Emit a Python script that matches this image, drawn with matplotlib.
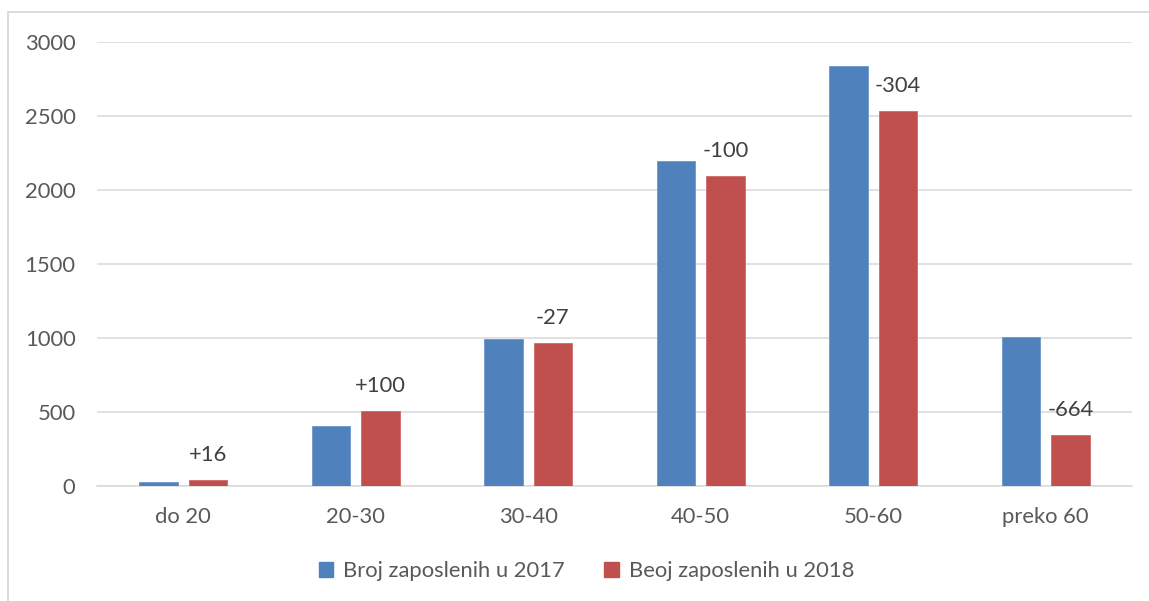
import matplotlib
matplotlib.use("Agg")
import matplotlib.pyplot as plt
from matplotlib.patches import Patch, Rectangle
import numpy as np

categories = ["do 20", "20-30", "30-40", "40-50", "50-60", "preko 60"]
values_2017 = [24, 406, 989, 2192, 2834, 1006]
values_2018 = [40, 506, 962, 2092, 2530, 342]
change_labels = ["+16", "+100", "-27", "-100", "-304", "-664"]
series_names = ["Broj zaposlenih u 2017", "Beoj zaposlenih u 2018"]
y_ticks = [0, 500, 1000, 1500, 2000, 2500, 3000]

plt.rcParams['font.family'] = ['Lato', 'DejaVu Sans']

W, H = 1149, 601
fig = plt.figure(figsize=(W / 100, H / 100), dpi=100)
left, right, bottom_px, top_px = 97, 1132, 485.7, 41.7
ax = fig.add_axes([left / W, 1 - bottom_px / H, (right - left) / W, (bottom_px - top_px) / H])

blue = "#4F81BD"
red = "#C0504D"
fs = 15.8
x = np.arange(len(categories))
bw = 0.224
off = 0.143
ax.bar(x - off, values_2017, bw, color=blue, edgecolor="#6d97cc", linewidth=0.6, zorder=3)
ax.bar(x + off, values_2018, bw, color=red, edgecolor="#d06a67", linewidth=0.6, zorder=3)

for xi, v, lab in zip(x, values_2018, change_labels):
    ax.annotate(lab, (xi + off, v), xytext=(0, 25), textcoords="offset pixels",
                ha="center", va="center", fontsize=fs, color="#404040", zorder=4)

ax.set_xlim(-0.5, len(categories) - 0.5)
ax.set_ylim(0, 3000)
ax.set_yticks(y_ticks)
ax.set_yticklabels([str(t) for t in y_ticks])
ax.set_xticks(x)
ax.set_xticklabels(categories)
ax.tick_params(axis="both", length=0, labelsize=fs, labelcolor="#595959")
ax.tick_params(axis="y", pad=15.5)
ax.tick_params(axis="x", pad=15)
ax.grid(axis="y", color="#D9D9D9", linewidth=1.1, zorder=0)
ax.set_axisbelow(True)
for s in ["top", "right", "left"]:
    ax.spines[s].set_visible(False)
ax.spines["bottom"].set_color("#D9D9D9")
ax.spines["bottom"].set_linewidth(1.1)

handles = [Patch(facecolor=blue, edgecolor=blue), Patch(facecolor=red, edgecolor=red)]
fig.legend(handles, series_names, loc="center", bbox_to_anchor=((322 + 851) / 2 / W, 1 - 571 / H),
           ncol=2, frameon=False, fontsize=fs, labelcolor="#595959",
           handlelength=0.65, handleheight=0.65, handletextpad=0.45, columnspacing=1.8)

frame = Rectangle((8 / W, -0.1), 1.2, 1 - 12 / H + 0.1, transform=fig.transFigure,
                  fill=False, edgecolor="#D9D9D9", linewidth=1.3)
fig.patches.append(frame)

fig.savefig("out.png", dpi=100, facecolor="white")
